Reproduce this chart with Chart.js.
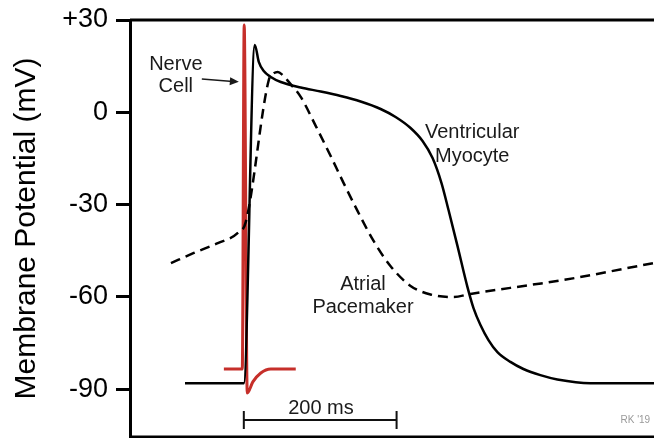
<!DOCTYPE html>
<html lang="en">
<head>
<meta charset="UTF-8">
<title>Membrane Potential</title>
<script src="https://cdn.jsdelivr.net/npm/chart.js"></script>
<style>
    body { margin: 0; background: #fff; }
    .wrap { width: 654px; height: 438px; position: relative; }
</style>
</head>
<body>
<div class="wrap"><canvas id="apChart"></canvas></div>
<script>
    // time in ms (0 = stimulus), potential in mV
    const ventTime = [-77, 0, 14.4, 19.6, 26.1, 35.3, 48.4, 74.5, 100.7, 126.8, 152.9, 179.1, 198.7, 218.3, 234.0, 247.1, 258.8, 268.0, 279.7, 292.8, 300.7, 309.8, 320.3, 332.0, 349.0, 366.0, 388.2, 410.5, 453.6, 537];
    const ventMv   = [-88, -88, 21.9, 16.4, 13.4, 11.5, 9.85, 8.06, 6.76, 5.3, 3.51, 1.08, -1.52, -5.1, -9.32, -14.85, -22.97, -31.75, -43.4, -56.8, -63.6, -69.1, -74.0, -77.9, -81.1, -83.4, -85.4, -86.8, -88, -88];

    const pacTime = [-95.4, -65.4, -34.0, -7.8, 2.6, 32.7, 37.9, 44.4, 50.9, 58.8, 74.5, 94.1, 113.7, 130.7, 149.0, 169.9, 192.2, 218.3, 244.4, 274.5, 296.7, 375.2, 418.3, 536];
    const pacMv   = [-49.0, -45.7, -42.5, -39.2, -35.6, 10.5, 12.4, 13.1, 12.1, 9.9, 5.0, -4.4, -14.2, -23.0, -32.1, -41.8, -50.0, -56.4, -59.2, -60.0, -59.0, -56.1, -54.5, -49.0];

    const nerveTime = [-26.1, -2.0, 0.5, 4.5, 11.8, 22.2, 35.3, 68];
    const nerveMv   = [-83.4, -83.4, 28.4, -91.2, -87.6, -84.7, -83.4, -83.4];

    const yTickValues = [30, 0, -30, -60, -90];
    const yTickLabels = ['+30', '0', '-30', '-60', '-90'];
    const scaleBarMs = 200;

    const labelTexts = ['Nerve', 'Cell', 'Ventricular', 'Myocyte', 'Atrial', 'Pacemaker', scaleBarMs + ' ms'];

    const FONT = "'Liberation Sans', Arial, sans-serif";
    const toXY = (ts, vs) => ts.map((t, i) => ({ x: t, y: vs[i] }));

    // where the annotation texts sit, in data units
    const labelPos = [[-89, 15.7], [-89, 8.5], [299, -6.4], [299, -14.5], [156, -55.8], [156, -63.3], [101, -96.1]];

    const overlay = {
        id: 'overlay',
        afterDatasetsDraw(chart) {
            const { ctx, chartArea, scales: { x, y } } = chart;
            ctx.save();
            // frame top and bottom
            ctx.strokeStyle = '#000';
            ctx.lineWidth = 3;
            ctx.beginPath();
            ctx.moveTo(chartArea.left, chartArea.top);
            ctx.lineTo(chartArea.right, chartArea.top);
            ctx.moveTo(chartArea.left, chartArea.bottom);
            ctx.lineTo(chartArea.right, chartArea.bottom);
            ctx.stroke();

            // texts
            ctx.fillStyle = '#1a1a1a';
            ctx.font = '20px ' + FONT;
            ctx.textAlign = 'center';
            ctx.textBaseline = 'middle';
            labelTexts.forEach((txt, i) => {
                ctx.fillText(txt, x.getPixelForValue(labelPos[i][0]), y.getPixelForValue(labelPos[i][1]));
            });

            // arrow to nerve cell
            const ax0 = x.getPixelForValue(-55), ay0 = y.getPixelForValue(10.8);
            const ax1 = x.getPixelForValue(-6.5), ay1 = y.getPixelForValue(9.9);
            const ang = Math.atan2(ay1 - ay0, ax1 - ax0);
            ctx.strokeStyle = '#1a1a1a';
            ctx.lineWidth = 1.5;
            ctx.beginPath();
            ctx.moveTo(ax0, ay0);
            ctx.lineTo(ax1 - 6 * Math.cos(ang), ay1 - 6 * Math.sin(ang));
            ctx.stroke();
            ctx.beginPath();
            ctx.moveTo(ax1, ay1);
            ctx.lineTo(ax1 - 9 * Math.cos(ang) + 4 * Math.sin(ang), ay1 - 9 * Math.sin(ang) - 4 * Math.cos(ang));
            ctx.lineTo(ax1 - 9 * Math.cos(ang) - 4 * Math.sin(ang), ay1 - 9 * Math.sin(ang) + 4 * Math.cos(ang));
            ctx.closePath();
            ctx.fill();

            // 200 ms scale bar
            const bx0 = x.getPixelForValue(0), bx1 = x.getPixelForValue(scaleBarMs);
            const by = y.getPixelForValue(-100);
            ctx.strokeStyle = '#111';
            ctx.lineWidth = 2;
            ctx.beginPath();
            ctx.moveTo(bx0, by); ctx.lineTo(bx1, by);
            ctx.moveTo(bx0, by - 9); ctx.lineTo(bx0, by + 9);
            ctx.moveTo(bx1, by - 9); ctx.lineTo(bx1, by + 9);
            ctx.stroke();

            // signature
            ctx.fillStyle = '#9a9a9a';
            ctx.font = '10px ' + FONT;
            ctx.textAlign = 'right';
            ctx.fillText("RK '19", x.getPixelForValue(532), y.getPixelForValue(-100));
            ctx.restore();
        }
    };

    new Chart(document.getElementById('apChart'), {
        type: 'line',
        data: {
            datasets: [
                {
                    label: 'Atrial Pacemaker',
                    data: toXY(pacTime, pacMv),
                    borderColor: '#000',
                    borderWidth: 2.5,
                    borderDash: [10, 6],
                    cubicInterpolationMode: 'monotone',
                    pointRadius: 0
                },
                {
                    label: 'Ventricular Myocyte',
                    data: toXY(ventTime, ventMv),
                    borderColor: '#000',
                    borderWidth: 2.5,
                    cubicInterpolationMode: 'monotone',
                    pointRadius: 0
                },
                {
                    label: 'Nerve Cell',
                    data: toXY(nerveTime, nerveMv),
                    borderColor: '#c62f2a',
                    borderWidth: 3,
                    cubicInterpolationMode: 'monotone',
                    pointRadius: 0
                }
            ]
        },
        options: {
            responsive: true,
            maintainAspectRatio: false,
            animation: false,
            layout: { padding: { top: 20, bottom: 1, left: 0, right: 0 } },
            plugins: { legend: { display: false }, tooltip: { enabled: false } },
            scales: {
                x: { type: 'linear', min: -149, max: 537, display: false },
                y: {
                    min: -105.5,
                    max: 30,
                    afterBuildTicks: (scale) => { scale.ticks = yTickValues.map(v => ({ value: v })); },
                    afterFit: (scale) => { scale.width = 130; scale.paddingTop = 0; scale.paddingBottom = 0; },
                    ticks: {
                        color: '#000',
                        padding: 8,
                        font: { family: FONT, size: 27 },
                        callback: (value) => yTickLabels[yTickValues.indexOf(value)]
                    },
                    grid: { drawOnChartArea: false, tickLength: 14, tickWidth: 3, tickColor: '#000' },
                    border: { display: true, color: '#000', width: 3 },
                    title: {
                        display: true,
                        text: 'Membrane Potential (mV)',
                        color: '#000',
                        font: { family: FONT, size: 30 },
                        padding: { top: 9, bottom: 0 }
                    }
                }
            }
        },
        plugins: [overlay]
    });
</script>
</body>
</html>
